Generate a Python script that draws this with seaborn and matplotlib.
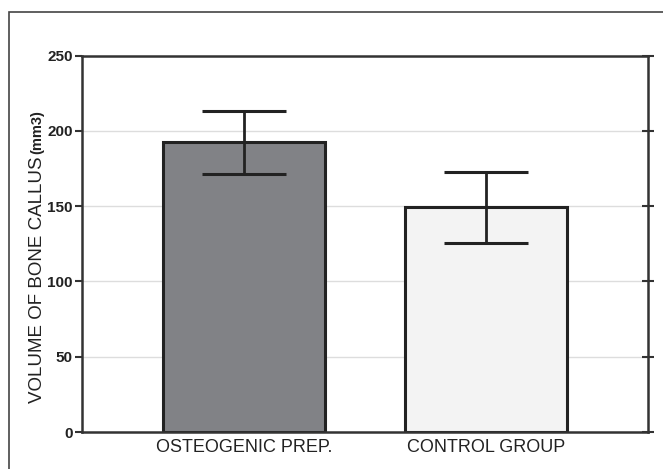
import matplotlib
matplotlib.use("Agg")
import matplotlib.pyplot as plt
import pandas as pd
import seaborn as sns
from matplotlib.patches import Rectangle

# values
groups = ["OSTEOGENIC PREP.", "CONTROL GROUP"]
volume_mean = [192.8, 149.6]
err_low = [171.5, 125.7]
err_high = [213.3, 172.8]
bar_colors = ["#818286", "#f3f3f3"]
y_ticks = [0, 50, 100, 150, 200, 250]

df = pd.DataFrame({"group": groups, "volume": volume_mean})

sns.set_theme(style="white")
plt.rcParams["font.family"] = ["Liberation Sans", "DejaVu Sans"]

ink = "#222222"
line = "#333333"

fig = plt.figure(figsize=(6.63, 4.69), dpi=100)
ax = fig.add_axes([82 / 663, 37 / 469, 566 / 663, 376.3 / 469])

sns.barplot(
    data=df, x="group", y="volume", hue="group", palette=bar_colors,
    saturation=1, width=0.67, edgecolor=ink, linewidth=2.2,
    legend=False, ax=ax, zorder=2,
)

# error bars (asymmetric, from read-off limits)
xpos = list(range(len(groups)))
lower = [m - lo for m, lo in zip(volume_mean, err_low)]
upper = [hi - m for m, hi in zip(volume_mean, err_high)]
ax.errorbar(
    xpos, volume_mean, yerr=[lower, upper], fmt="none",
    ecolor=ink, elinewidth=2, capsize=30, capthick=2.2, zorder=3,
)

ax.set_xlim(-0.67, 1.67)
ax.set_ylim(0, 250)
ax.set_yticks(y_ticks)
ax.set_xlabel("")
ax.set_ylabel("")
ax.yaxis.grid(True, color="#dddddd", lw=1)
ax.set_axisbelow(True)

for s in ax.spines.values():
    s.set_visible(True)
    s.set_color(line)
    s.set_linewidth(1.8)

ax.tick_params(axis="y", left=True, direction="out", length=5, width=1.5,
               color=line, pad=1.5, labelsize=11, labelcolor=ink)
for lab in ax.get_yticklabels():
    lab.set_fontweight("bold")
ax.tick_params(axis="x", length=0, pad=5, labelsize=13, labelcolor=ink)

# right-side ticks crossing the spine
ax2 = ax.twinx()
ax2.set_ylim(0, 250)
ax2.set_yticks(y_ticks)
ax2.set_yticklabels([])
ax2.tick_params(axis="y", right=True, direction="inout", length=9,
                width=1.5, color=line)
for s in ax2.spines.values():
    s.set_visible(False)

# y label: main text plus smaller bold unit
t1 = fig.text(38 / 663, (469 - 403) / 469, "VOLUME OF BONE CALLUS",
              rotation=90, ha="center", va="bottom", fontsize=13.5, color=ink)
fig.canvas.draw()
bb = t1.get_window_extent(renderer=fig.canvas.get_renderer())
fig.text(37 / 663, (bb.y1 + 2) / 469, "(mm3)", rotation=90, ha="center",
         va="bottom", fontsize=10.5, fontweight="bold", color=ink)

# outer frame of the figure panel
frame = Rectangle((9 / 663, -0.1), 2, (469 - 12) / 469 + 0.1,
                  transform=fig.transFigure, fill=False,
                  edgecolor="#444444", lw=1.2)
fig.add_artist(frame)

fig.savefig("out.png", dpi=100)
